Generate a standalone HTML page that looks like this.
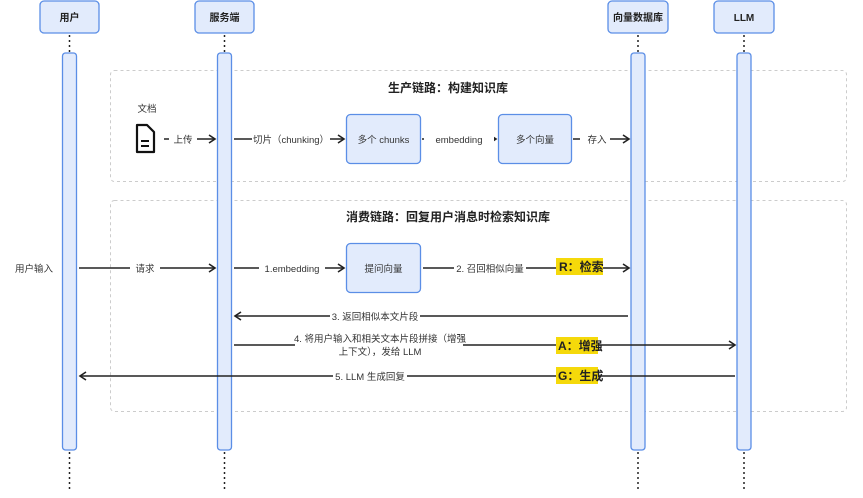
<!DOCTYPE html>
<html><head><meta charset="utf-8"><style>
html,body{margin:0;padding:0;background:#fff;}
svg{display:block;font-family:"Liberation Sans","Noto Sans CJK SC",sans-serif;}
</style></head><body>
<svg width="863" height="498" viewBox="0 0 863 498" xmlns="http://www.w3.org/2000/svg">
<defs>
<marker id="a" markerWidth="10" markerHeight="10" refX="8" refY="5" orient="auto" markerUnits="userSpaceOnUse">
<path d="M2,1 L8,5 L2,9" fill="none" stroke="#222" stroke-width="1.6"/></marker>
</defs>
<!-- group boxes -->
<rect x="110.5" y="70.5" width="736" height="111" rx="4" fill="none" stroke="#ccc" stroke-dasharray="3,3"/>
<rect x="110.5" y="200.5" width="736" height="211" rx="4" fill="none" stroke="#ccc" stroke-dasharray="3,3"/>
<text x="448" y="92" font-size="12" font-weight="bold" text-anchor="middle" fill="#222">生产链路：构建知识库</text>
<text x="448" y="221" font-size="12" font-weight="bold" text-anchor="middle" fill="#222">消费链路：回复用户消息时检索知识库</text>
<!-- lifelines dotted -->
<g stroke="#222" stroke-width="1.5" stroke-dasharray="2,3">
<line x1="69.5" y1="35" x2="69.5" y2="53"/><line x1="69.5" y1="452" x2="69.5" y2="490"/>
<line x1="224.5" y1="35" x2="224.5" y2="53"/><line x1="224.5" y1="452" x2="224.5" y2="490"/>
<line x1="638" y1="35" x2="638" y2="53"/><line x1="638" y1="452" x2="638" y2="490"/>
<line x1="744" y1="35" x2="744" y2="53"/><line x1="744" y1="452" x2="744" y2="490"/>
</g>
<!-- headers -->
<g fill="#e2ebfc" stroke="#5b8ee6" stroke-width="1.3">
<rect x="40" y="1" width="59" height="32" rx="4"/>
<rect x="195" y="1" width="59" height="32" rx="4"/>
<rect x="608" y="1" width="60" height="32" rx="4"/>
<rect x="714" y="1" width="60" height="32" rx="4"/>
<!-- bars -->
<rect x="62.5" y="53" width="14" height="397" rx="3"/>
<rect x="217.5" y="53" width="14" height="397" rx="3"/>
<rect x="631" y="53" width="14" height="397" rx="3"/>
<rect x="737" y="53" width="14" height="397" rx="3"/>
<!-- nodes -->
<rect x="346.5" y="114.5" width="74" height="49" rx="4"/>
<rect x="498.5" y="114.5" width="73" height="49" rx="4"/>
<rect x="346.5" y="243.5" width="74" height="49" rx="4"/>
</g>
<g font-size="10" font-weight="bold" text-anchor="middle" fill="#222">
<text x="69.5" y="21">用户</text><text x="224.5" y="21">服务端</text>
<text x="638" y="21">向量数据库</text><text x="744" y="21">LLM</text>
</g>
<g font-size="9.5" text-anchor="middle" fill="#333">
<text x="383.5" y="143">多个 chunks</text>
<text x="535" y="143">多个向量</text>
<text x="383.5" y="272">提问向量</text>
<text x="147" y="112">文档</text>
<text x="34" y="272">用户输入</text>
</g>
<!-- doc icon -->
<path d="M137,125 h10 l7,7 v20 h-17 z" fill="none" stroke="#111" stroke-width="2.2" stroke-linejoin="round"/>
<line x1="141" y1="141" x2="149" y2="141" stroke="#111" stroke-width="2"/>
<line x1="141" y1="146" x2="149" y2="146" stroke="#111" stroke-width="2"/>
<!-- arrows -->
<g stroke="#222" stroke-width="1.4" fill="none">
<line x1="164" y1="139" x2="215" y2="139" marker-end="url(#a)"/>
<line x1="234" y1="139" x2="344" y2="139" marker-end="url(#a)"/>
<line x1="422" y1="139" x2="496" y2="139" marker-end="url(#a)"/>
<line x1="573" y1="139" x2="629" y2="139" marker-end="url(#a)"/>
<line x1="79" y1="268" x2="215" y2="268" marker-end="url(#a)"/>
<line x1="234" y1="268" x2="344" y2="268" marker-end="url(#a)"/>
<line x1="423" y1="268" x2="629" y2="268" marker-end="url(#a)"/>
<line x1="628" y1="316" x2="235" y2="316" marker-end="url(#a)"/>
<line x1="234" y1="345" x2="735" y2="345" marker-end="url(#a)"/>
<line x1="735" y1="376" x2="80" y2="376" marker-end="url(#a)"/>
</g>
<!-- label backgrounds -->
<g fill="#fff">
<rect x="169" y="132" width="28" height="14"/>
<rect x="252" y="132" width="78" height="14"/>
<rect x="424" y="132" width="70" height="14"/>
<rect x="580" y="132" width="30" height="14"/>
<rect x="130" y="261" width="30" height="14"/>
<rect x="259" y="261" width="66" height="14"/>
<rect x="454" y="261" width="72" height="14"/>
<rect x="330" y="309" width="90" height="14"/>
<rect x="295" y="332" width="168" height="28"/>
<rect x="333" y="369" width="74" height="14"/>
</g>
<g font-size="9.5" text-anchor="middle" fill="#333">
<text x="183" y="143">上传</text>
<text x="291" y="143">切片（chunking）</text>
<text x="459" y="143">embedding</text>
<text x="597" y="143">存入</text>
<text x="145" y="272">请求</text>
<text x="292" y="272">1.embedding</text>
<text x="490" y="272">2. 召回相似向量</text>
<text x="375" y="320">3. 返回相似本文片段</text>
<text x="380" y="342">4. 将用户输入和相关文本片段拼接（增强</text>
<text x="380" y="355">上下文），发给 LLM</text>
<text x="370" y="380">5. LLM 生成回复</text>
</g>
<!-- highlights -->
<g fill="#f5d90a">
<rect x="556" y="258" width="47" height="17"/>
<rect x="556" y="337" width="42" height="17"/>
<rect x="556" y="367" width="42" height="17"/>
</g>
<g font-size="12" font-weight="bold" fill="#222">
<text x="559" y="271">R：检索</text>
<text x="558" y="350">A：增强</text>
<text x="558" y="380">G：生成</text>
</g>
</svg>
</body></html>
